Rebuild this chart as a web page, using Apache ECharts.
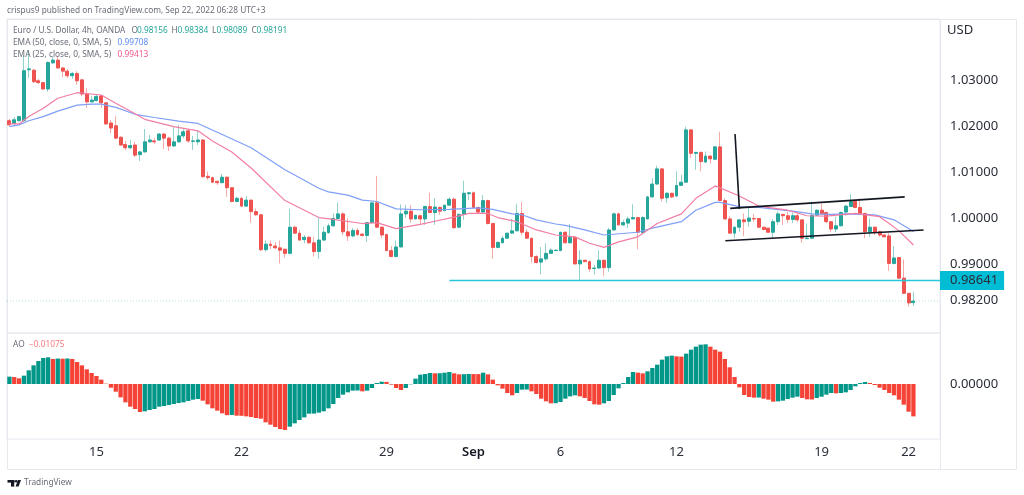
<!DOCTYPE html>
<html>
<head>
<meta charset="utf-8">
<style>
html,body{margin:0;padding:0;background:#fff;}
#chart{width:1024px;height:495px;}
</style>
<script src="https://cdn.jsdelivr.net/npm/echarts@6/dist/echarts.min.js"></script>
</head>
<body>
<div id="chart"></div>
<script>
// trading days on the time axis, 6 four hour bars each
let tradingDays = ['10','11','12','15','16','17','18','19','22','23','24','25','26','29','30','31',
    'Sep','2','5','6','7','8','9','12','13','14','15','16','19','20','21','22','23'];
let tickDays = ['15','22','29','Sep','6','12','19','22'];
let tickIndexes = [18,48,78,96,114,138,168,186];

let opens = [
    1.0212,1.0206,1.0212,1.0212,1.0323,1.0322,1.0299,1.0295,1.0281,1.0338,
    1.0344,1.0327,1.0320,1.0310,1.0315,1.0301,1.0270,1.0253,1.0256,1.0266,
    1.0251,1.0207,1.0201,1.0176,1.0160,1.0153,1.0159,1.0138,1.0144,1.0166,
    1.0168,1.0170,1.0183,1.0174,1.0157,1.0166,1.0179,1.0190,1.0167,1.0166,
    1.0170,1.0091,1.0088,1.0080,1.0077,1.0089,1.0066,1.0036,1.0043,1.0026,
    1.0039,1.0014,1.0007,0.9931,0.9943,0.9939,0.9935,0.9932,0.9923,0.9980,
    0.9967,0.9953,0.9958,0.9946,0.9927,0.9952,0.9968,0.9983,0.9999,1.0009,
    0.9970,0.9961,0.9973,0.9965,0.9962,0.9990,1.0033,0.9980,0.9964,0.9929,
    0.9916,0.9937,1.0009,1.0015,0.9998,1.0005,0.9998,1.0025,1.0012,1.0023,
    1.0016,1.0028,1.0041,0.9980,1.0008,1.0053,1.0055,1.0023,1.0013,1.0038,
    0.9988,0.9936,0.9946,0.9956,0.9967,0.9972,1.0010,0.9969,0.9956,0.9916,
    0.9904,0.9911,0.9923,0.9929,0.9929,0.9969,0.9946,0.9958,0.9900,0.9908,
    0.9905,0.9890,0.9891,0.9908,0.9892,0.9974,1.0009,0.9985,0.9989,0.9998,
    1.0001,0.9968,0.9998,1.0046,1.0074,1.0107,1.0044,1.0054,1.0048,1.0071,
    1.0078,1.0192,1.0141,1.0143,1.0122,1.0135,1.0128,1.0155,1.0038,0.9998,
    0.9967,0.9980,0.9996,0.9993,0.9999,0.9999,0.9980,0.9978,0.9969,0.9992,
    1.0008,1.0005,0.9997,1.0005,0.9996,0.9955,0.9956,1.0006,1.0017,1.0012,
    0.9992,0.9976,0.9983,1.0013,1.0025,1.0036,1.0023,1.0010,0.9970,0.9980,
    0.9970,0.9963,0.9961,0.9901,0.9914,0.9869,0.9836,0.98156
];
let closes = [
    1.0203,1.0214,1.0221,1.0321,1.0325,1.0297,1.0295,1.0281,1.0339,1.0344,
    1.0327,1.0320,1.0310,1.0315,1.0299,1.0270,1.0253,1.0257,1.0265,1.0251,
    1.0205,1.0196,1.0174,1.0159,1.0153,1.0158,1.0137,1.0144,1.0166,1.0170,
    1.0166,1.0183,1.0174,1.0157,1.0166,1.0179,1.0188,1.0168,1.0168,1.0170,
    1.0090,1.0088,1.0078,1.0077,1.0089,1.0066,1.0036,1.0043,1.0026,1.0039,
    1.0014,1.0007,0.9931,0.9943,0.9940,0.9935,0.9930,0.9923,0.9980,0.9967,
    0.9952,0.9958,0.9946,0.9927,0.9952,0.9969,0.9983,0.9999,1.0009,0.9970,
    0.9961,0.9973,0.9964,0.9962,0.9990,1.0033,0.9980,0.9963,0.9929,0.9916,
    0.9937,1.0009,1.0015,0.9998,1.0006,0.9998,1.0025,1.0012,1.0024,1.0015,
    1.0028,1.0041,0.9979,1.0008,1.0054,1.0055,1.0023,1.0013,1.0038,0.9988,
    0.9936,0.9947,0.9956,0.9967,0.9972,1.0010,0.9969,0.9956,0.9916,0.9903,
    0.9911,0.9923,0.9930,0.9930,0.9969,0.9946,0.9958,0.9900,0.9908,0.9905,
    0.9889,0.9891,0.9908,0.9892,0.9974,1.0009,0.9985,0.9990,0.9998,1.0001,
    0.9969,1.0001,1.0046,1.0074,1.0107,1.0043,1.0054,1.0046,1.0071,1.0078,
    1.0192,1.0141,1.0143,1.0123,1.0135,1.0129,1.0155,1.0038,0.9998,0.9967,
    0.9980,0.9996,0.9992,1.0000,0.9998,0.9980,0.9975,0.9969,0.9992,1.0009,
    1.0005,0.9997,1.0005,0.9996,0.9956,0.9956,1.0006,1.0017,1.0009,0.9992,
    0.9976,0.9983,1.0012,1.0026,1.0036,1.0023,1.0010,0.9970,0.9980,0.9969,
    0.9963,0.9959,0.9901,0.9913,0.9869,0.9836,0.9815,0.98191
];
let highs = [
    1.0216,1.0220,1.0223,1.0355,1.0366,1.0325,1.0303,1.0296,1.0341,1.0351,
    1.0353,1.0328,1.0325,1.0318,1.0320,1.0303,1.0283,1.0266,1.0268,1.0268,
    1.0252,1.0214,1.0222,1.0178,1.0168,1.0170,1.0166,1.0146,1.0194,1.0181,
    1.0174,1.0185,1.0185,1.0177,1.0198,1.0203,1.0194,1.0194,1.0179,1.0190,
    1.0172,1.0101,1.0090,1.0081,1.0096,1.0090,1.0067,1.0046,1.0045,1.0048,
    1.0040,1.0021,1.0008,0.9951,0.9951,0.9948,0.9951,0.9933,1.0020,0.9983,
    0.9974,0.9963,0.9961,0.9959,1.0002,0.9981,0.9988,1.0010,1.0034,1.0012,
    0.9999,0.9978,0.9978,0.9966,0.9991,1.0034,1.0092,0.9982,0.9966,0.9939,
    0.9951,1.0030,1.0028,1.0028,1.0007,1.0007,1.0027,1.0055,1.0043,1.0025,
    1.0029,1.0045,1.0045,1.0010,1.0081,1.0057,1.0058,1.0025,1.0050,1.0040,
    0.9989,0.9949,0.9961,0.9968,0.9998,1.0031,1.0035,0.9975,0.9957,0.9919,
    0.9937,0.9945,0.9934,0.9931,0.9970,0.9971,0.9987,0.9959,0.9930,0.9909,
    0.9908,0.9898,0.9930,0.9909,0.9978,1.0012,1.0012,0.9996,1.0003,1.0030,
    1.0002,1.0004,1.0048,1.0087,1.0114,1.0108,1.0056,1.0055,1.0102,1.0094,
    1.0199,1.0193,1.0144,1.0145,1.0145,1.0136,1.0157,1.0188,1.0043,1.0004,
    0.9981,0.9998,1.0010,1.0022,1.0009,1.0000,0.9981,0.9979,0.9998,1.0014,
    1.0009,1.0014,1.0012,1.0012,0.9997,0.9988,1.0036,1.0019,1.0031,1.0014,
    0.9993,1.0003,1.0014,1.0028,1.0052,1.0039,1.0043,1.0011,0.9999,0.9982,
    0.9973,0.9964,0.9968,0.9939,0.9915,0.9910,0.9837,0.98384
];
let lows = [
    1.0201,1.0203,1.0210,1.0210,1.0305,1.0294,1.0292,1.0280,1.0275,1.0336,
    1.0325,1.0307,1.0305,1.0303,1.0290,1.0266,1.0240,1.0252,1.0254,1.0240,
    1.0203,1.0185,1.0172,1.0157,1.0148,1.0150,1.0133,1.0124,1.0143,1.0164,
    1.0161,1.0168,1.0150,1.0146,1.0155,1.0164,1.0174,1.0164,1.0148,1.0159,
    1.0088,1.0083,1.0076,1.0072,1.0076,1.0046,1.0034,1.0034,1.0024,1.0024,
    0.9990,1.0005,0.9928,0.9927,0.9932,0.9933,0.9901,0.9914,0.9921,0.9966,
    0.9950,0.9945,0.9944,0.9916,0.9911,0.9950,0.9966,0.9981,0.9997,0.9963,
    0.9950,0.9958,0.9961,0.9960,0.9948,0.9989,0.9978,0.9956,0.9928,0.9915,
    0.9915,0.9936,1.0000,0.9990,0.9997,0.9985,0.9985,1.0011,0.9985,1.0007,
    1.0015,1.0027,0.9976,0.9978,0.9996,1.0039,1.0021,1.0010,1.0010,0.9986,
    0.9911,0.9934,0.9945,0.9955,0.9966,0.9971,0.9963,0.9955,0.9903,0.9901,
    0.9877,0.9907,0.9922,0.9928,0.9928,0.9945,0.9945,0.9899,0.9865,0.9904,
    0.9883,0.9877,0.9890,0.9874,0.9883,0.9973,0.9984,0.9983,0.9978,0.9997,
    0.9932,0.9965,0.9997,1.0045,1.0073,1.0036,1.0033,1.0043,1.0045,1.0070,
    1.0077,1.0131,1.0105,1.0102,1.0120,1.0119,1.0127,1.0037,0.9997,0.9966,
    0.9956,0.9970,0.9961,0.9981,0.9992,0.9978,0.9973,0.9968,0.9956,0.9985,
    0.9985,0.9989,0.9989,0.9992,0.9946,0.9954,0.9955,1.0004,1.0008,0.9989,
    0.9970,0.9969,0.9982,1.0004,1.0024,1.0021,1.0009,0.9956,0.9959,0.9963,
    0.9959,0.9958,0.9885,0.9899,0.9867,0.9835,0.9807,0.98089
];

// [bar index, value] read at the turning points of each curve
let ema50 = [[0,1.0199],[2,1.0203],[4,1.0212],[7,1.0221],[10,1.0233],[14,1.0246],[17,1.0248],[19,1.0248],
    [22,1.0241],[26,1.0226],[30,1.0219],[35,1.0211],[39,1.0206],[43,1.0187],[50,1.0153],[57,1.0105],
    [64,1.0065],[66,1.0057],[70,1.0050],[73,1.0039],[76,1.0036],[80,1.0020],[85,1.0018],[91,1.0019],
    [97,1.0022],[100,1.0019],[104,1.0009],[106,1.0007],[109,0.9996],[113,0.9987],[115,0.9984],[119,0.9974],
    [123,0.9963],[130,0.9969],[133,0.9978],[139,0.9992],[142,1.0017],[146,1.0034],[147,1.0034],[151,1.0025],
    [155,1.0023],[162,1.0015],[166,1.0009],[170,1.0008],[173,1.0009],[179,1.0007],[183,0.9996],[187,0.99708]];
let ema25 = [[0,1.0205],[2,1.0205],[4,1.0221],[7,1.0239],[10,1.0261],[14,1.0273],[19,1.0268],[22,1.0250],
    [26,1.0227],[28,1.0215],[34,1.0199],[39,1.0190],[42,1.0168],[46,1.0144],[50,1.0109],[57,1.0038],
    [64,1.0001],[67,0.9997],[73,0.9988],[76,0.9990],[80,0.9977],[85,0.9986],[88,0.9993],[92,1.0002],
    [95,1.0010],[99,1.0010],[101,1.0001],[105,0.9992],[109,0.9974],[113,0.9963],[117,0.9959],[120,0.9945],
    [123,0.9936],[126,0.9948],[130,0.9959],[134,0.9988],[139,1.0009],[142,1.0043],[146,1.0070],[151,1.0048],
    [155,1.0026],[161,1.0017],[165,1.0005],[169,1.0004],[175,1.0010],[180,1.0003],[182,0.9988],[184,0.9972],[187,0.99413]];

let aoValues = [
    0.00244,0.00232,0.00188,0.00277,0.00454,0.00620,0.00764,0.00863,0.00886,0.00830,
    0.00845,0.00840,0.00846,0.00830,0.00731,0.00620,0.00487,0.00365,0.00266,0.00144,
    0.00011,-0.00122,-0.00255,-0.00443,-0.00609,-0.00753,-0.00830,-0.00930,-0.00908,-0.00863,
    -0.00830,-0.00753,-0.00731,-0.00697,-0.00664,-0.00631,-0.00609,-0.00565,-0.00520,-0.00498,
    -0.00554,-0.00675,-0.00808,-0.00886,-0.00974,-0.01035,-0.01028,-0.01052,-0.01056,-0.01074,
    -0.01096,-0.01129,-0.01151,-0.01273,-0.01351,-0.01428,-0.01494,-0.01528,-0.01417,-0.01306,
    -0.01196,-0.01107,-0.00985,-0.00982,-0.00952,-0.00908,-0.00808,-0.00664,-0.00465,-0.00354,
    -0.00277,-0.00221,-0.00215,-0.00244,-0.00221,-0.00133,0.00033,0.00077,0.00070,-0.00022,
    -0.00133,-0.00199,-0.00133,-0.00011,0.00177,0.00310,0.00332,0.00365,0.00354,0.00358,
    0.00376,0.00399,0.00354,0.00321,0.00325,0.00332,0.00330,0.00328,0.00376,0.00321,
    0.00144,-0.00044,-0.00155,-0.00299,-0.00376,-0.00299,-0.00188,-0.00183,-0.00244,-0.00332,
    -0.00487,-0.00576,-0.00642,-0.00638,-0.00598,-0.00487,-0.00410,-0.00376,-0.00410,-0.00465,
    -0.00565,-0.00675,-0.00686,-0.00642,-0.00565,-0.00365,-0.00144,0.00033,0.00232,0.00399,
    0.00376,0.00354,0.00421,0.00531,0.00642,0.00808,0.00919,0.00941,0.00919,0.00908,
    0.01007,0.01140,0.01240,0.01306,0.01317,0.01240,0.01140,0.01074,0.00830,0.00554,
    0.00232,-0.00111,-0.00365,-0.00432,-0.00454,-0.00449,-0.00487,-0.00520,-0.00587,-0.00576,
    -0.00554,-0.00498,-0.00454,-0.00421,-0.00465,-0.00509,-0.00515,-0.00465,-0.00421,-0.00354,
    -0.00299,-0.00310,-0.00299,-0.00277,-0.00199,-0.00077,0.00033,0.00066,0.00033,-0.00033,
    -0.00122,-0.00199,-0.00299,-0.00376,-0.00520,-0.00686,-0.00919,-0.01075
];

let priceTicks = [1.03,1.02,1.01,1.00,0.99,0.98641,0.982];
let aoTicks = [0];
let supportLevel = 0.98641;
let lastClose = 0.98191;

// hand drawn lines of the pattern, [bar index, price]
let supportLine = [[91,supportLevel],[192.5,supportLevel]];
let lastPriceLine = [[-0.5,lastClose],[192.5,lastClose]];
let flagPole = [[150.1,1.0183],[151,1.0020]];
let channelTop = [[149.1,1.0021],[185.2,1.0046]];
let channelBottom = [[148.1,0.99505],[189.1,0.99739]];

const UP = '#26a69a', DOWN = '#ef5350', FONT = '"Noto Sans", sans-serif';
const FRAME = '#e6e8ee', TEXT = '#2a2e39', LEGEND = '#6a6d78';

let categories = [];
tradingDays.forEach(function(day){
    for(let h=0; h<6; h++) categories.push(day+' '+(h*4)+':00');
});
categories = categories.slice(0,193);

let candleFull = opens.map(function(o,i){ return [o,closes[i],lows[i],highs[i]]; });
let candleBody = opens.map(function(o,i){
    return [o,closes[i],Math.min(o,closes[i]),Math.max(o,closes[i])];
});
let aoBars = aoValues.map(function(v,i){
    let rising = i===0 || v>=aoValues[i-1];
    return {value:v,itemStyle:{color:rising?'#009688':'#f44336'}};
});

function legendText(text,x,y,fill){
    return {type:'text',z:50,silent:true,style:{text:text,x:x,y:y,fill:fill,
        font:'8.3px '+FONT,textVerticalAlign:'middle'}};
}
function overlayLine(data,color,width,type){
    return {type:'line',xAxisIndex:2,yAxisIndex:0,data:data,symbol:'none',silent:true,z:5,
        lineStyle:{color:color,width:width,type:type||'solid'}};
}

let graphics = [
    {type:'rect',silent:true,z:0,shape:{x:7.5,y:19.5,width:1009,height:450},style:{fill:'none',stroke:FRAME,lineWidth:1}},
    {type:'line',silent:true,z:0,shape:{x1:940.5,y1:19.5,x2:940.5,y2:469.5},style:{stroke:FRAME,lineWidth:1}},
    legendText('crispus9 published on TradingView.com, Sep 22, 2022 06:28 UTC+3',7,11,LEGEND),
    legendText('Euro / U.S. Dollar, 4h, OANDA',13,30.5,LEGEND),
    legendText('O',131.5,30.5,LEGEND),legendText('0.98156',137,30.5,UP),
    legendText('H',171.5,30.5,LEGEND),legendText('0.98384',177.5,30.5,UP),
    legendText('L',212,30.5,LEGEND),legendText('0.98089',216.5,30.5,UP),
    legendText('C',251.5,30.5,LEGEND),legendText('0.98191',256.5,30.5,UP),
    legendText('EMA (50, close, 0, SMA, 5)',13,42.5,LEGEND),legendText('0.99708',117.5,42.5,'#5b8cf5'),
    legendText('EMA (25, close, 0, SMA, 5)',13,54.5,LEGEND),legendText('0.99413',117.5,54.5,'#f0588a'),
    legendText('AO',13,345,LEGEND),legendText('\u22120.01075',29,345,'#f77c80'),
    {type:'text',z:50,silent:true,style:{text:'USD',x:947,y:30.5,fill:TEXT,font:'13px '+FONT,textVerticalAlign:'middle'}},
    {type:'rect',silent:true,z:50,shape:{x:7.5,y:480,width:7,height:2.6},style:{fill:'#131722'}},
    {type:'rect',silent:true,z:50,shape:{x:11,y:480,width:3.2,height:6.6},style:{fill:'#131722'}},
    {type:'circle',silent:true,z:50,shape:{cx:16.2,cy:481.3,r:1.3},style:{fill:'#131722'}},
    {type:'polygon',silent:true,z:50,shape:{points:[[18,480],[21,480],[18.6,486.6],[15.6,486.6]]},style:{fill:'#131722'}},
    legendText('TradingView',24,483,LEGEND)
];

let axisRich = {
    tick:{color:TEXT,fontFamily:FONT,fontSize:13,padding:[0,0,0,10]},
    badge:{color:TEXT,fontFamily:FONT,fontSize:13,backgroundColor:'#00bcd4',padding:[3,6,3,10]}
};
let hiddenAxis = {axisLine:{show:false,onZero:false},axisTick:{show:false},splitLine:{show:false}};

let option = {
    animation:false,
    backgroundColor:'#fff',
    graphic:graphics,
    grid:[
        {left:7,top:19,width:933,height:314,show:true,borderColor:FRAME,borderWidth:1,backgroundColor:'transparent'},
        {left:7,top:333,width:933,height:106,show:true,borderColor:FRAME,borderWidth:1,backgroundColor:'transparent'}
    ],
    xAxis:[
        Object.assign({type:'category',gridIndex:0,data:categories,axisLabel:{show:false}},hiddenAxis),
        Object.assign({type:'category',gridIndex:1,data:categories,position:'bottom',
            axisLabel:{margin:7,hideOverlap:false,
                interval:function(index){ return tickIndexes.indexOf(index)>=0; },
                formatter:function(value,index){
                    let day = tickDays[tickIndexes.indexOf(index)];
                    return day==='Sep' ? '{month|'+day+'}' : '{day|'+day+'}';
                },
                rich:{
                    day:{color:TEXT,fontFamily:FONT,fontSize:13},
                    month:{color:'#131722',fontFamily:FONT,fontSize:13,fontWeight:600}
                }
            }},hiddenAxis),
        Object.assign({type:'value',gridIndex:0,min:-0.5,max:192.5,show:false},hiddenAxis)
    ],
    yAxis:[
        Object.assign({type:'value',gridIndex:0,position:'right',min:0.97495,max:1.04336,
            axisLabel:{customValues:priceTicks,margin:0,
                formatter:function(value){
                    let text = value.toFixed(5);
                    return (value===supportLevel ? '{badge|' : '{tick|')+text+'}';
                },
                rich:axisRich
            }},hiddenAxis),
        Object.assign({type:'value',gridIndex:1,position:'right',min:-0.01826,max:0.01693,
            axisLabel:{customValues:aoTicks,margin:0,
                formatter:function(value){ return '{tick|'+value.toFixed(5)+'}'; },
                rich:axisRich
            }},hiddenAxis)
    ],
    series:[
        overlayLine(lastPriceLine,'rgba(38,166,154,0.35)',1,[1,2]),
        {type:'candlestick',name:'wicks',xAxisIndex:0,yAxisIndex:0,data:candleFull,barWidth:1,silent:true,z:2,
            itemStyle:{color:'rgba(38,166,154,0.5)',color0:'rgba(239,83,80,0.5)',
                borderColor:'rgba(38,166,154,0.5)',borderColor0:'rgba(239,83,80,0.5)',borderWidth:1}},
        {type:'candlestick',name:'EUR/USD',xAxisIndex:0,yAxisIndex:0,data:candleBody,barWidth:3.4,silent:true,z:3,
            itemStyle:{color:UP,color0:DOWN,borderColor:UP,borderColor0:DOWN,borderWidth:1}},
        overlayLine(ema50,'#7f9ff8',1.2),
        overlayLine(ema25,'#f27ea5',1.2),
        overlayLine(supportLine,'#29c5db',1.5),
        overlayLine(flagPole,'#131722',1.6),
        overlayLine(channelTop,'#131722',1.6),
        overlayLine(channelBottom,'#131722',1.6),
        {type:'bar',name:'AO',xAxisIndex:1,yAxisIndex:1,data:aoBars,barWidth:4.3,silent:true}
    ]
};

let myChart = echarts.init(document.getElementById('chart'));
myChart.setOption(option);
</script>
</body>
</html>
